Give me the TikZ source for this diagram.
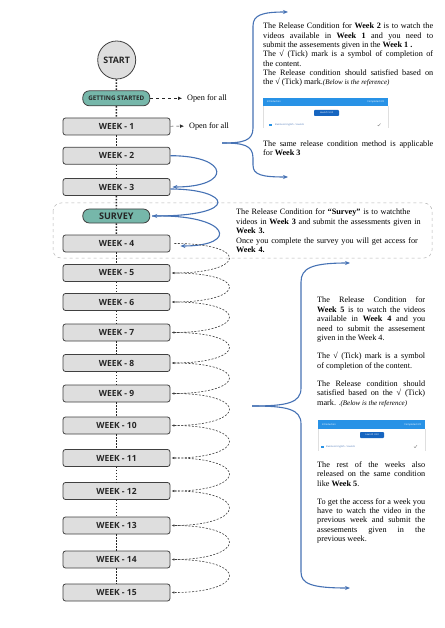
\documentclass[tikz,border=0pt]{standalone}
\usepackage{fontspec}
\setmainfont{Liberation Serif}
\newfontfamily\lblfont{Open Sans}
\usetikzlibrary{arrows.meta}
\definecolor{boxgray}{RGB}{222,222,222}
\definecolor{tealfill}{RGB}{118,183,170}
\definecolor{linkblue}{RGB}{70,114,180}
\definecolor{shotblue}{RGB}{40,146,230}
\definecolor{btnblue}{RGB}{22,101,192}
\tikzset{
  week/.style={draw=black!75, fill=boxgray, line width=0.8pt, rounded corners=2.5pt, minimum width=107pt, minimum height=17pt, inner sep=0pt, text=black!85, font=\lblfont\bfseries\fontsize{8.5}{10}\selectfont},
  phase/.style={week, fill=tealfill, rounded corners=6.5pt, minimum width=67pt},
  startnode/.style={circle, draw=black!75, fill=boxgray, line width=0.8pt, minimum size=38pt, inner sep=0pt, text=black!85, font=\lblfont\bfseries\fontsize{8.9}{10}\selectfont},
  dotline/.style={line width=1.5pt, dash pattern=on 1.5pt off 1.5pt, black!85},
  openarrow/.style={-{Latex[length=4pt,width=3.5pt]}, dashed, thin, black!85, shorten >=5pt},
  nextweek/.style={-{Latex[length=3pt,width=2.5pt]}, black!75, line width=0.6pt, dash pattern=on 2pt off 1.5pt},
  release/.style={-{Stealth[length=5pt,width=4pt]}, linkblue, line width=1.1pt},
  surveyframe/.style={draw=gray!60, dashed, line width=0.5pt, rounded corners=8pt},
  note/.style={inner sep=0pt, anchor=north west, font=\fontsize{8.2}{9.3}\selectfont, execute at begin node={\tolerance=9999\hbadness=10000\hyphenpenalty=10000\parindent=0pt}},
  shotbar/.style={fill=shotblue, minimum height=8pt, inner sep=0pt},
  shotbtn/.style={fill=btnblue, text=white, minimum height=6pt, inner sep=0pt, rounded corners=0.8pt, font=\lblfont\fontsize{2.4}{3}\selectfont},
  shottext/.style={inner sep=0pt, font=\lblfont\fontsize{2.4}{3}\selectfont}
}
\begin{document}
\begin{tikzpicture}[x=1pt, y=-1pt]
\useasboundingbox (0,0) rectangle (444,628);
\draw[surveyframe] (53,203) rectangle (432,258);

\node[startnode] (start) at (116.7,60) {START};
\node[phase, minimum height=15pt, font=\lblfont\bfseries\fontsize{6.3}{7}\selectfont] (gs) at (116.3,98.3) {GETTING STARTED};
\foreach \n/\y in {1/126.5, 2/155.7, 3/187, 4/243.5, 5/273, 6/302, 7/332.5, 8/363, 9/393.5, 10/425.5, 11/458, 12/491, 13/525.5, 14/559.5, 15/592.5}
  \node[week] (w\n) at (116.5,\y) {WEEK - \n};
\node[phase, minimum height=14pt, font=\lblfont\bfseries\fontsize{9.1}{10}\selectfont] (survey) at (116.3,216) {SURVEY};

\foreach \a [remember=\a as \prev (initially start)] in {gs,w1,w2,w3,survey,w4,w5,w6,w7,w8,w9,w10,w11,w12,w13,w14,w15}
  \draw[dotline] (\prev) -- (\a);

\node[note, anchor=west] (openA) at (187,98.3) {Open for all};
\node[note, anchor=west] (openB) at (189,126) {Open for all};
\draw[openarrow] (gs) -- (openA);
\draw[openarrow] (w1) -- (openB);

\draw[release] (w2.east) .. controls +(60,0) and +(60,0) .. ([xshift=2pt]w3.east);
\draw[release] ([yshift=-2pt]w3.east) .. controls +(60,0) and +(90,0) .. ([xshift=2pt]survey.east);
\draw[release] ([xshift=2pt]survey.east) .. controls +(78,-2) and +(60,0) .. ([xshift=10pt,yshift=-2.5pt]w4.east);

\foreach \a [evaluate=\a as \b using int(\a+1)] in {4,...,14}
  \draw[nextweek] ([xshift=4pt]w\a.east) .. controls +(75,0) and +(75,0) .. ([xshift=1pt]w\b.east);

\coordinate (tipA) at (222,143);
\coordinate (upA) at (288,12);
\coordinate (downA) at (288,177);
\draw[release] (tipA) .. controls (243,143) and (253,141) .. (253,128) -- (253,26) .. controls (253,15) and (262,12) .. (upA);
\draw[release] (tipA) .. controls (243,143) and (253,145) .. (253,158) -- (253,165) .. controls (253,175) and (262,177) .. (downA);

\coordinate (tipB) at (252,406);
\coordinate (upB) at (350,263);
\coordinate (downB) at (350,588);
\draw[release] (tipB) .. controls (287,406) and (301,403) .. (301,388) -- (301,282) .. controls (301,268) and (312,263) .. (upB);
\draw[release] (tipB) .. controls (287,406) and (301,409) .. (301,424) -- (301,572) .. controls (301,584) and (312,588) .. (downB);

\node[note, text width=170pt, align=justify] (condA) at (263,23) {The Release Condition for \textbf{Week 2} is to watch the\linebreak videos available in \textbf{Week 1} and you need to\linebreak submit the assesements given in the \textbf{Week 1 .}\\ The √ (Tick) mark is a symbol of completion of\linebreak the content.\\ The Release condition should satisfied based on\linebreak the √ (Tick) mark.{\itshape\fontsize{7}{9.3}\selectfont(Below is the reference)}};

\node[shotbar, minimum width=125pt] (barA) at (325.5,102) {};
\node[shottext, anchor=west, text=white] (introA) at ([xshift=4pt]barA.west) {Introduction};
\node[shottext, anchor=east, text=white] (doneA) at ([xshift=-4pt]barA.east) {Completed 3/3};
\node[shotbtn, minimum width=25pt] (launchA) at (326.5,113) {Launch Unit};
\node[shottext, anchor=west, text=linkblue] (unitA) at (275,125) {Business English - Sounds};
\fill[shotblue] (269,124) rectangle (272,126);
\draw[black!60, line width=0.3pt] (377.5,125) -- (378.5,126) -- (380.5,123.5);
\draw[gray!25, line width=0.3pt] (263,106) -- (263,128) (388,106) -- (388,128);

\node[note, text width=170pt, align=justify] (condB) at (263,140.4) {The same release condition method is applicable\linebreak for \textbf{Week 3}};

\node[note, text width=200pt, align=left, font=\fontsize{8.2}{9.5}\selectfont] (condS) at (236,209) {The Release Condition for \textbf{“Survey”} is to watchthe\\ videos in \textbf{Week 3} and submit the assessments given in\\ \textbf{Week 3.}\\ Once you complete the survey you will get access for\\ \textbf{Week 4.}};

\node[note, text width=108pt, align=justify, font=\fontsize{8.2}{9.5}\selectfont] (condC) at (317,297) {The Release Condition for\linebreak \textbf{Week 5} is to watch the videos\linebreak available in \textbf{Week 4} and you\linebreak need to submit the assesement\linebreak given in the Week 4.\par\vspace{8.5pt}
The √ (Tick) mark is a symbol\linebreak of completion of the content.\par\vspace{8.5pt}
The Release condition should\linebreak satisfied based on the √ (Tick)\linebreak mark. {\itshape\fontsize{7}{9.5}\selectfont.(Below is the reference)}};

\node[shotbar, minimum width=107pt, minimum height=9pt] (barB) at (371.5,424.5) {};
\node[shottext, anchor=west, text=white] (introB) at ([xshift=4pt]barB.west) {Introduction};
\node[shottext, anchor=east, text=white] (doneB) at ([xshift=-4pt]barB.east) {Completed 3/3};
\node[shotbtn, minimum width=24pt] (launchB) at (372,435) {Launch Unit};
\node[shottext, anchor=west, text=linkblue] (unitB) at (326,446.7) {Business English - Sounds};
\fill[shotblue] (320.5,445.7) rectangle (323.5,447.7);
\draw[black!60, line width=0.3pt] (414,446.7) -- (415,447.7) -- (417,445.2);
\draw[gray!25, line width=0.3pt] (318,429) -- (318,450.5) (425,429) -- (425,450.5);

\node[note, text width=108pt, align=justify, font=\fontsize{8.2}{9.4}\selectfont] (condD) at (317,461.4) {The rest of the weeks also\linebreak released on the same condition\linebreak like \textbf{Week 5}.\par\vspace{8.5pt}
To get the access for a week you\linebreak have to watch the video in the\linebreak previous week and submit the\linebreak assesements given in the\linebreak previous week.};
\end{tikzpicture}
\end{document}
